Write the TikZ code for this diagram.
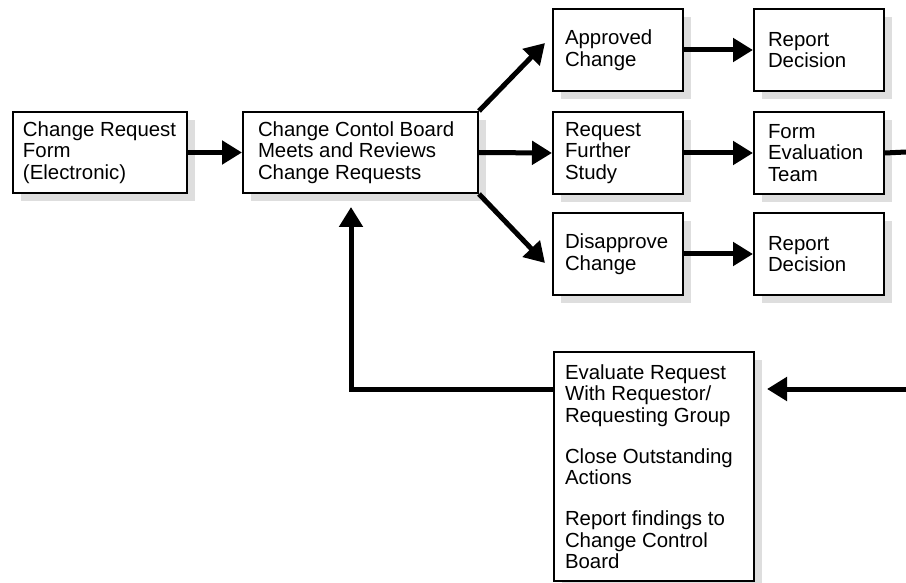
\documentclass[tikz,border=0pt]{standalone}
\usepackage{fontspec}
\setmainfont{Liberation Sans}
\usetikzlibrary{arrows.meta,shadows}
\definecolor{shadowgray}{RGB}{222,222,222}
\begin{document}
\begin{tikzpicture}[x=1pt,y=-1pt,
  box/.style={draw, line width=2pt, fill=white, anchor=north west,
    align=flush left, inner xsep=12pt, inner ysep=0pt,
    font=\fontsize{20.4}{21.5}\selectfont,
    drop shadow={shadow xshift=8pt, shadow yshift=-8pt,
      fill=shadowgray, opacity=1}},
  flow/.style={line width=5pt, -{Triangle[length=20pt,width=23pt]}},
  wire/.style={line width=5pt},
]
\useasboundingbox (0,0) rectangle (906,583);
\fill[white] (0,0) rectangle (906,583);

% first column: request form and review board
\node[box, inner xsep=10pt, text width=154pt, minimum height=81pt] (form) at (12,111)
  {Change Request\\Form\\(Electronic)};
\node[box, inner xsep=15pt, text width=205pt, minimum height=81pt] (board) at (242,111)
  {Change Contol Board\\Meets and Reviews\\Change Requests};

% decisions
\node[box, text width=106pt, minimum height=82pt] (approved) at (552,8)
  {Approved\\Change};
\node[box, text width=106pt, minimum height=82pt] (further) at (552,111)
  {Request\\Further\\Study};
\node[box, text width=106pt, minimum height=82pt] (disapprove) at (552,212)
  {Disapprove\\Change};

% follow-up actions
\node[box, inner xsep=14pt, text width=102pt, minimum height=82pt] (report1) at (753,8)
  {Report\\Decision};
\node[box, inner xsep=14pt, text width=102pt, minimum height=82pt] (evalteam) at (753,111)
  {Form\\Evaluation\\Team};
\node[box, inner xsep=14pt, text width=102pt, minimum height=82pt] (report2) at (753,212)
  {Report\\Decision};

% evaluation box
\node[box, inner xsep=11pt, text width=178pt, minimum height=229pt] (evaluate) at (553,351)
  {Evaluate Request\\With Requestor/\\Requesting Group\\[19.5pt]
   Close Outstanding\\Actions\\[19.5pt]
   Report findings to\\Change Control\\Board};

% off-page continuation points
\coordinate (exitR) at (906,152);
\coordinate (entryR) at (906,389);

% connectors
\draw[flow] (form.east) -- (board.west);
\draw[flow] (board.east) -- (further.west);
\draw[flow] (board.north east) -- ([xshift=-7pt,yshift=7pt]approved.west);
\draw[flow] (board.south east) -- ([xshift=-7pt,yshift=-9pt]disapprove.west);
\draw[flow] (approved.east) -- (report1.west);
\draw[flow] (further.east) -- (evalteam.west);
\draw[flow] (disapprove.east) -- (report2.west);
\draw[wire] (evalteam.east) -- (exitR);
\draw[flow, shorten >=12pt] (entryR) -- (evaluate.east |- entryR);
\draw[flow, shorten >=13pt] (evaluate.west |- entryR) -| ([xshift=-9.5pt]board.south);
\end{tikzpicture}
\end{document}
